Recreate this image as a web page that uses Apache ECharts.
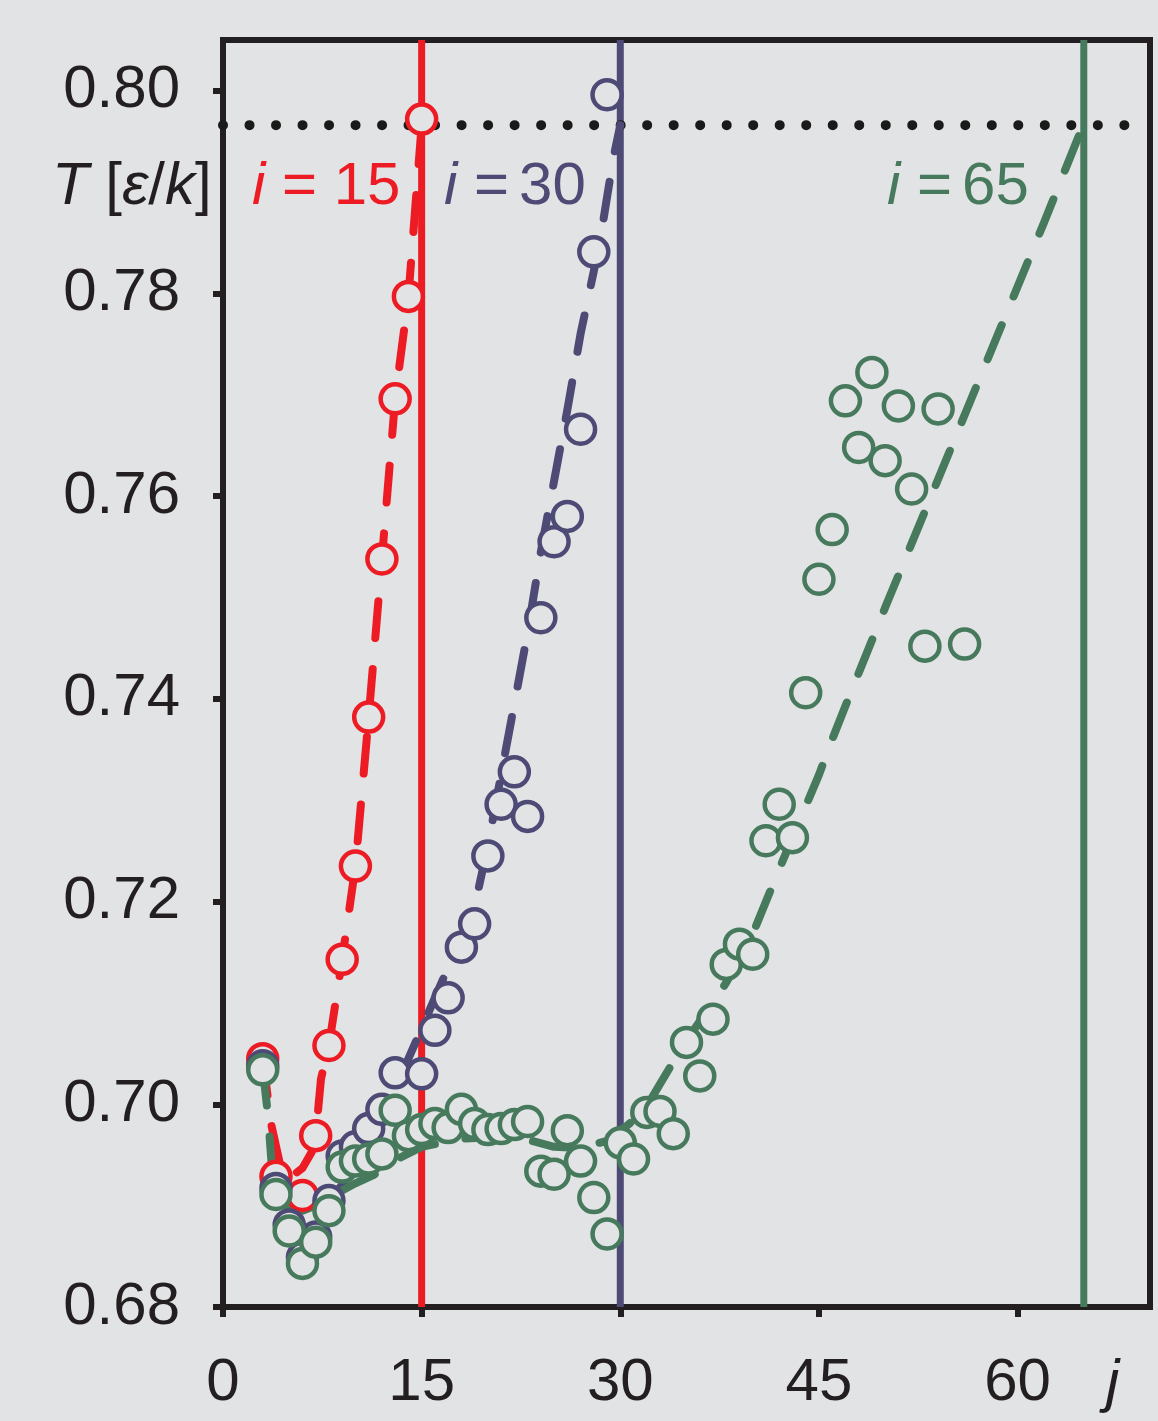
<!DOCTYPE html>
<html><head><meta charset="utf-8">
<script src="https://cdn.jsdelivr.net/npm/echarts@6/dist/echarts.min.js"></script>
<style>html,body{margin:0;padding:0;background:#e2e3e5;}#c{width:1158px;height:1421px;}</style>
</head><body><div id="c"></div>
<script>
// ---- axis ticks ----
const xTicks = [0, 15, 30, 45, 60];
const yTicks = [0.68, 0.70, 0.72, 0.74, 0.76, 0.78, 0.80];

// ---- i = 15 (red) data points ----
const jRed = [3, 4, 6, 7, 8, 9, 10, 11, 12, 13, 14, 15];
const tRed = [0.7045, 0.6929, 0.6910, 0.6969, 0.7058, 0.7143, 0.7235, 0.7382, 0.7538, 0.7696, 0.7797, 0.7972];
// red dashed fit
const jRedFit = [3, 3.66, 4.5, 5, 6, 6.7, 7, 7.4, 8, 9, 10, 11, 12, 13, 14, 15];
const tRedFit = [0.7045, 0.6979, 0.6929, 0.6927, 0.6937, 0.6953, 0.6969, 0.7025, 0.7058, 0.7143, 0.7235, 0.7382, 0.7538, 0.7696, 0.7797, 0.7966];

// ---- i = 30 (purple) data points ----
const jPur = [3, 4, 5, 6, 7, 8, 9, 10, 11, 12, 13, 15, 16, 17, 18, 19, 20, 21, 22, 23, 24, 25, 26, 27, 28, 29];
const tPur = [0.7038, 0.6917, 0.6881, 0.6849, 0.6869, 0.6905, 0.6949, 0.6958, 0.6976, 0.6995, 0.7031, 0.7030, 0.7073, 0.7105, 0.7155, 0.7178, 0.7245, 0.7296, 0.7328, 0.7284, 0.7480, 0.7555, 0.7580, 0.7666, 0.7841, 0.7996];
// purple dashed fit
const jPurFit = [8.5, 9.5, 11, 12, 13, 14, 15, 16, 17, 18, 19, 20, 21, 22, 23, 24, 25, 26, 27, 28, 28.5, 29, 29.5, 30];
const tPurFit = [0.6912, 0.6930, 0.6960, 0.6985, 0.7012, 0.7045, 0.7075, 0.7105, 0.7135, 0.7165, 0.7195, 0.7255, 0.7325, 0.7395, 0.7465, 0.7545, 0.7615, 0.7685, 0.7760, 0.7822, 0.7854, 0.7895, 0.7935, 0.7966];

// ---- i = 65 (green) data points ----
const jGrn = [3, 4, 5, 6, 7, 8, 9, 10, 11, 12, 13, 14, 15, 16, 17, 18, 19, 20, 21, 22, 23, 24, 25, 26, 27, 28, 29, 30, 31, 32, 33, 34, 35, 36, 37, 38, 39, 40, 41, 42, 43, 44, 45, 46, 47, 48, 49, 50, 51, 52, 53, 54, 56];
const tGrn = [0.7034, 0.6911, 0.6875, 0.6843, 0.6864, 0.6895, 0.6938, 0.6944, 0.6946, 0.6951, 0.6994, 0.6969, 0.6975, 0.6981, 0.6977, 0.6995, 0.6981, 0.6975, 0.6976, 0.6980, 0.6983, 0.6934, 0.6931, 0.6974, 0.6944, 0.6908, 0.6872, 0.6962, 0.6946, 0.6992, 0.6993, 0.6971, 0.7061, 0.7028, 0.7084, 0.7138, 0.7158, 0.7148, 0.7260, 0.7296, 0.7263, 0.7406, 0.7518, 0.7567, 0.7694, 0.7648, 0.7722, 0.7635, 0.7689, 0.7607, 0.7452, 0.7686, 0.7454];
// green dashed fit
const jGrnFit = [3, 3.4, 3.66, 4, 5, 6, 7, 8, 9, 10, 11.35, 13, 15, 18, 21, 23, 25, 27, 29, 30.5, 31.3, 32, 33, 34, 35, 36, 37, 38, 39, 40, 41, 42, 43, 44, 45, 46, 47, 50, 53, 56, 59, 62, 64.7];
const tGrnFit = [0.7035, 0.6989, 0.6943, 0.6915, 0.6895, 0.6895, 0.6900, 0.6908, 0.6915, 0.6922, 0.6930, 0.6945, 0.6958, 0.6966, 0.6968, 0.6965, 0.6958, 0.6957, 0.6964, 0.6979, 0.6987, 0.6998, 0.7020, 0.7042, 0.7063, 0.7082, 0.7100, 0.7120, 0.7143, 0.7168, 0.7200, 0.7232, 0.7263, 0.7294, 0.7325, 0.7360, 0.7393, 0.7490, 0.7585, 0.7680, 0.7775, 0.7870, 0.7958];

// ---- reference lines ----
const markerJ = [15, 30, 65];
const refT = 0.7966;
const refSpan = [0, 68.5];

const X_MIN = 0, X_MAX = 70, Y_MIN = 0.68, Y_MAX = 0.805;
const BG = '#e2e3e5', INK = '#231f20';
const RED = '#ed1c24', PUR = '#4e4a76', GRN = '#477a5d';
const markerColors = [RED, PUR, GRN];
const FONT = 'Liberation Sans';

const zip = (a, b) => a.map((v, k) => [v, b[k]]);

const fitLine = (name, js, ts, color, z) => ({
  name, type: 'line', data: zip(js, ts), z, showSymbol: false, symbol: 'none',
  lineStyle: { color, width: 8, type: [37, 31], cap: 'round', join: 'round' },
  animation: false, silent: true
});
const pts = (name, js, ts, color, z) => ({
  name, type: 'scatter', data: zip(js, ts), z, symbol: 'circle', symbolSize: 29,
  itemStyle: { color: BG, borderColor: color, borderWidth: 4.5, opacity: 1 },
  animation: false, silent: true
});

const series = [];
markerJ.forEach((j, k) => series.push({
  type: 'line', data: [[j, Y_MIN], [j, Y_MAX]], z: 1, showSymbol: false, symbol: 'none',
  lineStyle: { color: markerColors[k], width: 7 }, animation: false, silent: true
}));
series.push({
  type: 'line', data: [[refSpan[0], refT], [refSpan[1], refT]], z: 2, showSymbol: false, symbol: 'none',
  lineStyle: { color: '#1a1a1a', width: 10, type: [0.01, 26.5], cap: 'round' }, animation: false, silent: true
});
series.push(fitLine('fitRed', jRedFit, tRedFit, RED, 3));
series.push(fitLine('fitPur', jPurFit, tPurFit, PUR, 3));
series.push(fitLine('fitGrn', jGrnFit, tGrnFit, GRN, 3));
series.push(pts('i15', jRed, tRed, RED, 4));
series.push(pts('i30', jPur, tPur, PUR, 5));
series.push(pts('i65', jGrn, tGrn, GRN, 6));

const txt = (x, y, text, fill, rich) => ({
  type: 'text', x, y, z: 100,
  style: { text, fill, fontSize: 60, fontFamily: FONT, align: 'left', verticalAlign: 'middle', rich }
});
const it = (c) => ({ fontStyle: 'italic', fontSize: 60, fontFamily: FONT, color: c });
const sp = (c) => ({ fontSize: 36, fontFamily: FONT, color: c });

const chart = echarts.init(document.getElementById('c'), null, { renderer: 'canvas' });
chart.setOption({
  backgroundColor: BG,
  animation: false,
  grid: { left: 223, right: 8, top: 40, bottom: 114, show: true, borderColor: INK, borderWidth: 6, backgroundColor: 'transparent' },
  xAxis: {
    type: 'value', min: X_MIN, max: X_MAX, interval: 15,
    axisLine: { show: true, onZero: false, lineStyle: { color: INK, width: 6 } },
    axisTick: { show: true, length: 10, lineStyle: { color: INK, width: 6 }, customValues: xTicks },
    axisLabel: { customValues: xTicks, fontSize: 60, fontFamily: FONT, color: INK, margin: 46, lineHeight: 60 },
    splitLine: { show: false }
  },
  yAxis: {
    type: 'value', min: Y_MIN, max: Y_MAX, interval: 0.02,
    axisLine: { show: true, onZero: false, lineStyle: { color: INK, width: 6 } },
    axisTick: { show: true, length: 10, lineStyle: { color: INK, width: 6 }, customValues: yTicks },
    axisLabel: { customValues: yTicks, fontSize: 60, fontFamily: FONT, color: INK, margin: 43, formatter: v => v.toFixed(2) },
    splitLine: { show: false }
  },
  graphic: [
    txt(52, 187, '{i|T} [{i|ε}/{i|k}]', INK, { i: it(INK) }),
    txt(252, 187, '{i|i} = 15', RED, { i: it(RED) }),
    txt(444, 187, '{i|i} ={s| }30', PUR, { i: it(PUR), s: sp(PUR) }),
    txt(887, 187, '{i|i} ={s| }65', GRN, { i: it(GRN), s: sp(GRN) }),
    txt(1106, 1384, '{i|j}', INK, { i: it(INK) })
  ],
  series
});
</script>
</body></html>
